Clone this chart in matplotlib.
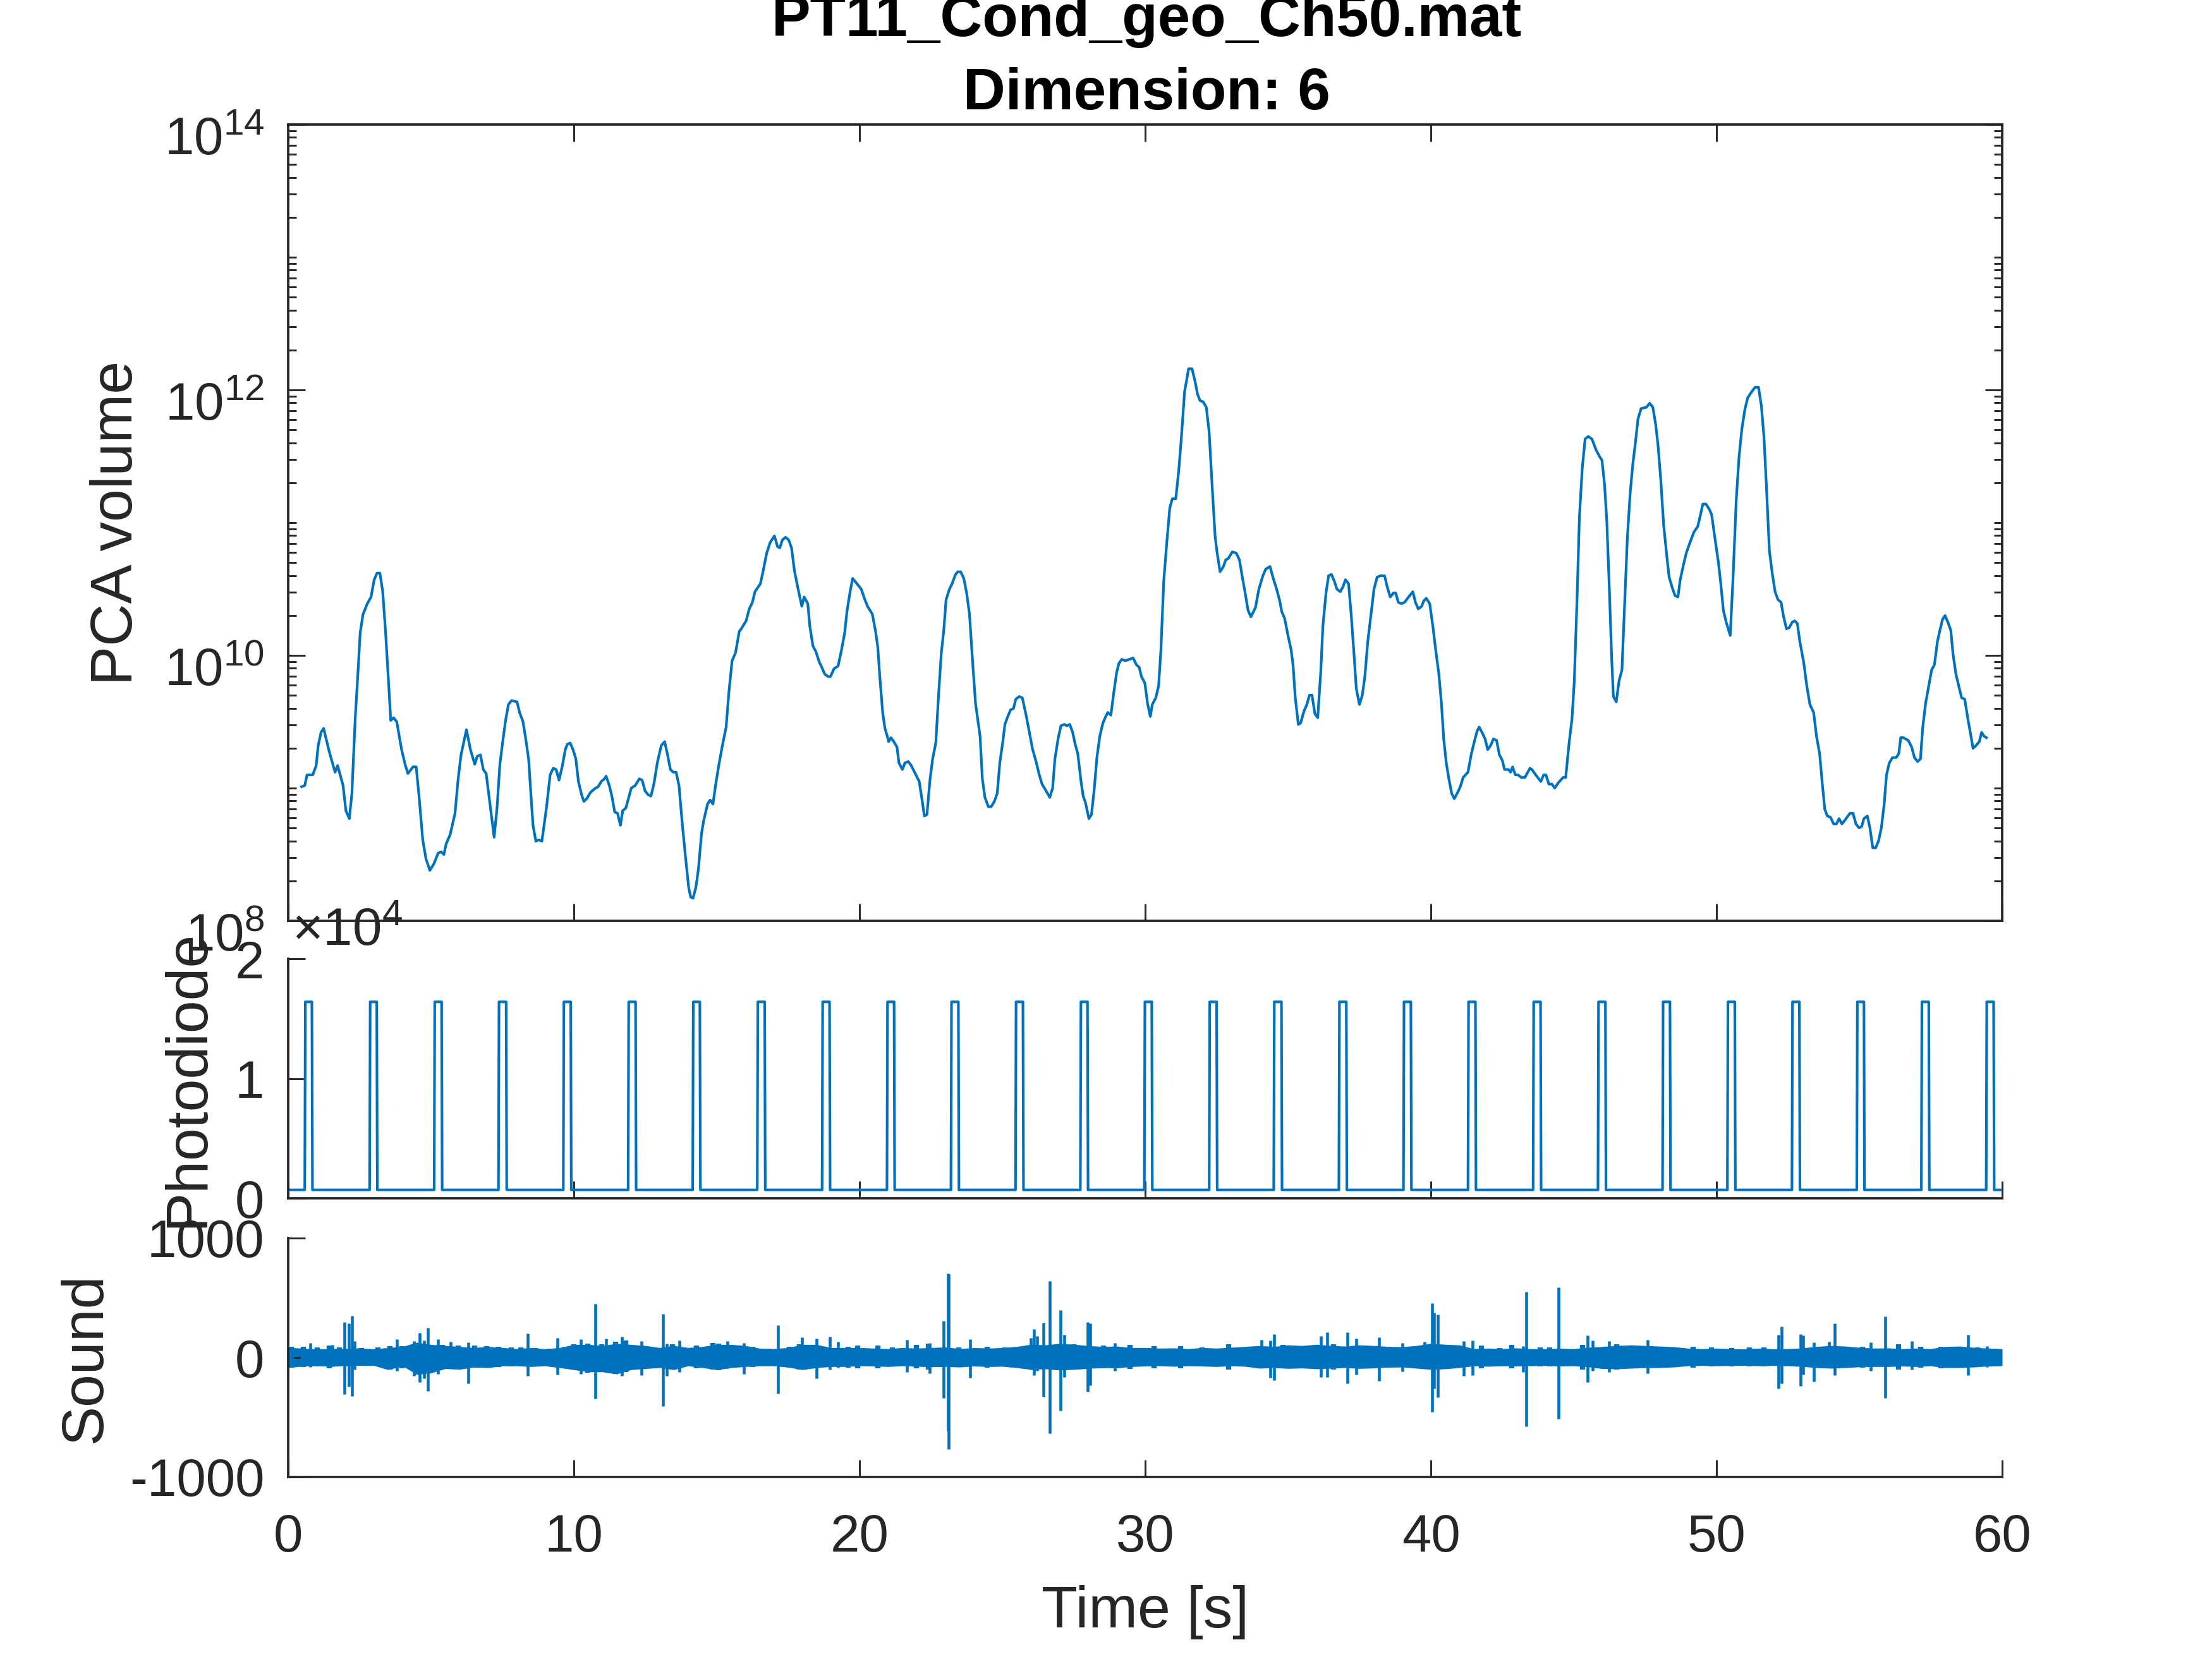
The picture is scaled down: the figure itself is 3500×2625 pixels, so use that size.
import matplotlib
matplotlib.use("Agg")
import matplotlib.pyplot as plt
import numpy as np
from matplotlib.ticker import LogLocator, NullFormatter
from matplotlib.transforms import ScaledTranslation

plt.rcParams["font.family"] = ["Liberation Sans", "DejaVu Sans"]
plt.rcParams["mathtext.fontset"] = "custom"
plt.rcParams["mathtext.rm"] = "Liberation Sans"
plt.rcParams["mathtext.default"] = "rm"

LINE = "#0072BD"
DARK = "#262626"

# PCA volume as (time, log10 value)
vol_t = [0.47, 0.58, 0.66, 0.86, 0.98, 1.05, 1.15, 1.24, 1.43, 1.64, 1.73, 1.92, 2.02, 2.14, 2.23, 2.35, 2.45, 2.52, 2.62, 2.77,
         2.90, 3.01, 3.11, 3.21, 3.31, 3.41, 3.51, 3.59, 3.69, 3.80, 3.97, 4.09, 4.19, 4.37, 4.48, 4.58, 4.71, 4.82, 4.96, 5.10,
         5.25, 5.35, 5.45, 5.53, 5.67, 5.84, 5.95, 6.05, 6.24, 6.38, 6.53, 6.62, 6.73, 6.83, 6.93, 7.03, 7.21, 7.31, 7.41, 7.51,
         7.61, 7.71, 7.82, 8.01, 8.10, 8.22, 8.33, 8.42, 8.50, 8.57, 8.67, 8.78, 8.88, 9.04, 9.17, 9.28, 9.38, 9.48, 9.59, 9.70,
         9.77, 9.87, 9.97, 10.07, 10.16, 10.27, 10.35, 10.45, 10.59, 10.76, 10.85, 10.96, 11.07, 11.13, 11.24, 11.33, 11.43, 11.53, 11.63, 11.71,
         11.82, 12.01, 12.15, 12.29, 12.39, 12.49, 12.60, 12.70, 12.80, 12.93, 13.06, 13.18, 13.28, 13.38, 13.48, 13.58, 13.68, 13.80, 13.90, 14.02,
         14.09, 14.17, 14.27, 14.36, 14.47, 14.55, 14.68, 14.77, 14.87, 14.96, 15.08, 15.19, 15.33, 15.43, 15.54, 15.66, 15.79, 15.86, 16.03, 16.14,
         16.25, 16.34, 16.53, 16.63, 16.75, 16.87, 17.02, 17.13, 17.21, 17.30, 17.41, 17.52, 17.62, 17.72, 17.84, 17.98, 18.06, 18.19, 18.26, 18.37,
         18.47, 18.59, 18.68, 18.78, 18.90, 18.98, 19.11, 19.25, 19.36, 19.48, 19.56, 19.67, 19.76, 19.91, 20.06, 20.17, 20.28, 20.45, 20.57, 20.64,
         20.71, 20.81, 20.89, 20.96, 21.02, 21.10, 21.20, 21.31, 21.38, 21.50, 21.59, 21.71, 21.81, 21.95, 22.09, 22.19, 22.27, 22.36, 22.47, 22.56,
         22.67, 22.75, 22.86, 22.95, 23.03, 23.15, 23.24, 23.36, 23.44, 23.54, 23.65, 23.75, 23.85, 23.95, 24.06, 24.22, 24.30, 24.39, 24.51, 24.61,
         24.72, 24.82, 24.91, 25.01, 25.09, 25.19, 25.29, 25.39, 25.47, 25.59, 25.70, 25.83, 25.92, 26.06, 26.18, 26.28, 26.39, 26.53, 26.66, 26.76,
         26.84, 26.95, 27.05, 27.17, 27.26, 27.36, 27.46, 27.55, 27.64, 27.76, 27.83, 27.91, 28.03, 28.12, 28.22, 28.31, 28.41, 28.52, 28.62, 28.69,
         28.80, 28.90, 29.00, 29.08, 29.18, 29.31, 29.44, 29.58, 29.69, 29.79, 29.87, 29.99, 30.08, 30.18, 30.25, 30.37, 30.47, 30.55, 30.65, 30.76,
         30.86, 30.95, 31.07, 31.17, 31.27, 31.38, 31.44, 31.52, 31.64, 31.75, 31.83, 31.92, 32.03, 32.14, 32.24, 32.34, 32.45, 32.52, 32.62, 32.74,
         32.82, 32.91, 33.05, 33.19, 33.30, 33.40, 33.50, 33.60, 33.70, 33.86, 33.98, 34.12, 34.22, 34.37, 34.47, 34.60, 34.70, 34.78, 34.88, 34.99,
         35.11, 35.18, 35.25, 35.36, 35.44, 35.56, 35.66, 35.75, 35.84, 35.94, 36.04, 36.15, 36.22, 36.33, 36.42, 36.52, 36.62, 36.71, 36.83, 36.93,
         37.01, 37.12, 37.21, 37.31, 37.39, 37.50, 37.60, 37.69, 37.79, 37.90, 38.01, 38.12, 38.24, 38.38, 38.48, 38.58, 38.69, 38.77, 38.86, 38.97,
         39.08, 39.22, 39.37, 39.46, 39.56, 39.68, 39.75, 39.84, 39.96, 40.07, 40.17, 40.28, 40.37, 40.45, 40.54, 40.63, 40.73, 40.82, 40.92, 41.03,
         41.13, 41.30, 41.41, 41.51, 41.62, 41.69, 41.79, 41.90, 41.99, 42.09, 42.19, 42.30, 42.40, 42.50, 42.58, 42.72, 42.79, 42.86, 42.96, 43.05,
         43.17, 43.29, 43.47, 43.54, 43.67, 43.85, 43.95, 44.03, 44.13, 44.24, 44.34, 44.46, 44.63, 44.72, 44.84, 44.94, 45.02, 45.12, 45.20, 45.30,
         45.40, 45.51, 45.64, 45.78, 45.90, 45.99, 46.08, 46.16, 46.25, 46.33, 46.39, 46.49, 46.59, 46.69, 46.78, 46.88, 46.98, 47.07, 47.17, 47.25,
         47.36, 47.55, 47.66, 47.77, 47.87, 47.95, 48.05, 48.15, 48.25, 48.34, 48.45, 48.55, 48.65, 48.73, 48.84, 48.94, 49.07, 49.21, 49.34, 49.44,
         49.52, 49.63, 49.75, 49.83, 49.94, 50.06, 50.14, 50.24, 50.34, 50.48, 50.58, 50.69, 50.79, 50.89, 50.99, 51.09, 51.21, 51.35, 51.47, 51.57,
         51.66, 51.75, 51.85, 51.95, 52.05, 52.15, 52.26, 52.34, 52.45, 52.55, 52.65, 52.74, 52.83, 52.92, 53.05, 53.16, 53.27, 53.40, 53.50, 53.61,
         53.70, 53.79, 53.88, 53.99, 54.10, 54.20, 54.29, 54.39, 54.50, 54.67, 54.78, 54.88, 54.99, 55.08, 55.16, 55.28, 55.37, 55.47, 55.57, 55.67,
         55.77, 55.87, 55.95, 56.05, 56.16, 56.29, 56.38, 56.45, 56.54, 56.71, 56.83, 56.93, 57.04, 57.14, 57.22, 57.32, 57.43, 57.53, 57.63, 57.73,
         57.81, 57.91, 58.00, 58.10, 58.20, 58.28, 58.38, 58.48, 58.58, 58.69, 58.80, 58.90, 58.98, 59.08, 59.20, 59.28, 59.37, 59.45]
vol_log = [9.01, 9.02, 9.10, 9.10, 9.17, 9.32, 9.42, 9.45, 9.28, 9.12, 9.17, 9.02, 8.83, 8.77, 8.96, 9.54, 9.90, 10.17, 10.31, 10.39,
           10.44, 10.57, 10.62, 10.62, 10.48, 10.17, 9.81, 9.51, 9.53, 9.50, 9.29, 9.18, 9.11, 9.16, 9.16, 8.94, 8.61, 8.47, 8.38, 8.43,
           8.51, 8.52, 8.50, 8.58, 8.65, 8.81, 9.07, 9.25, 9.44, 9.29, 9.18, 9.24, 9.25, 9.14, 9.11, 8.94, 8.63, 8.85, 9.18, 9.35,
           9.51, 9.63, 9.66, 9.65, 9.57, 9.50, 9.35, 9.21, 8.94, 8.72, 8.60, 8.61, 8.60, 8.85, 9.10, 9.15, 9.14, 9.06, 9.16, 9.29,
           9.33, 9.34, 9.29, 9.22, 9.05, 8.95, 8.90, 8.92, 8.97, 9.00, 9.01, 9.05, 9.07, 9.09, 9.02, 8.94, 8.82, 8.81, 8.72, 8.83,
           8.85, 9.00, 9.02, 9.07, 9.06, 8.98, 8.95, 8.94, 9.03, 9.20, 9.32, 9.35, 9.25, 9.14, 9.12, 9.12, 9.02, 8.72, 8.50, 8.25,
           8.18, 8.17, 8.25, 8.39, 8.66, 8.76, 8.88, 8.91, 8.88, 9.02, 9.18, 9.31, 9.46, 9.73, 9.96, 10.02, 10.18, 10.20, 10.26, 10.35,
           10.40, 10.48, 10.54, 10.64, 10.77, 10.85, 10.90, 10.82, 10.81, 10.87, 10.89, 10.87, 10.81, 10.64, 10.51, 10.37, 10.44, 10.39, 10.22, 10.07,
           10.03, 9.95, 9.91, 9.86, 9.84, 9.84, 9.90, 9.92, 10.03, 10.17, 10.33, 10.48, 10.58, 10.54, 10.50, 10.43, 10.37, 10.31, 10.17, 10.06,
           9.84, 9.57, 9.45, 9.40, 9.35, 9.38, 9.35, 9.31, 9.19, 9.14, 9.19, 9.20, 9.17, 9.11, 9.05, 8.91, 8.79, 8.80, 9.07, 9.22,
           9.34, 9.64, 10.01, 10.19, 10.42, 10.50, 10.54, 10.61, 10.63, 10.63, 10.58, 10.47, 10.31, 9.98, 9.64, 9.39, 9.07, 8.93, 8.86, 8.86,
           8.90, 8.96, 9.19, 9.34, 9.48, 9.54, 9.59, 9.60, 9.67, 9.69, 9.68, 9.55, 9.45, 9.29, 9.20, 9.11, 9.03, 8.98, 8.93, 9.00,
           9.22, 9.37, 9.47, 9.48, 9.47, 9.48, 9.42, 9.33, 9.26, 9.04, 8.94, 8.89, 8.77, 8.80, 9.00, 9.23, 9.39, 9.49, 9.54, 9.57,
           9.55, 9.72, 9.87, 9.94, 9.97, 9.96, 9.97, 9.98, 9.93, 9.91, 9.84, 9.79, 9.64, 9.54, 9.63, 9.68, 9.77, 10.04, 10.56, 10.86,
           11.11, 11.18, 11.18, 11.38, 11.65, 11.99, 12.06, 12.16, 12.16, 12.06, 11.97, 11.92, 11.91, 11.87, 11.68, 11.29, 10.89, 10.77, 10.63, 10.67,
           10.72, 10.73, 10.78, 10.77, 10.72, 10.59, 10.47, 10.34, 10.29, 10.36, 10.50, 10.60, 10.65, 10.67, 10.59, 10.50, 10.42, 10.33, 10.28, 10.16,
           10.04, 9.92, 9.69, 9.48, 9.49, 9.58, 9.63, 9.70, 9.70, 9.56, 9.53, 9.89, 10.22, 10.47, 10.60, 10.61, 10.56, 10.50, 10.48, 10.52,
           10.57, 10.54, 10.31, 10.01, 9.75, 9.63, 9.70, 9.84, 10.10, 10.30, 10.50, 10.59, 10.60, 10.60, 10.51, 10.44, 10.47, 10.47, 10.40, 10.39,
           10.40, 10.44, 10.48, 10.40, 10.35, 10.37, 10.41, 10.43, 10.39, 10.22, 10.04, 9.86, 9.64, 9.37, 9.19, 9.07, 8.96, 8.92, 8.96, 9.01,
           9.08, 9.12, 9.25, 9.34, 9.43, 9.46, 9.42, 9.37, 9.29, 9.32, 9.37, 9.36, 9.25, 9.21, 9.14, 9.14, 9.12, 9.16, 9.10, 9.10,
           9.08, 9.08, 9.15, 9.14, 9.10, 9.05, 9.10, 9.10, 9.03, 9.03, 9.00, 9.04, 9.08, 9.08, 9.34, 9.52, 9.80, 10.44, 11.04, 11.41,
           11.63, 11.65, 11.63, 11.55, 11.50, 11.47, 11.29, 11.01, 10.49, 9.98, 9.69, 9.65, 9.81, 9.89, 10.37, 10.89, 11.23, 11.44, 11.62, 11.78,
           11.86, 11.87, 11.90, 11.87, 11.74, 11.59, 11.32, 10.98, 10.77, 10.59, 10.51, 10.45, 10.44, 10.57, 10.68, 10.77, 10.85, 10.93, 10.97, 11.06,
           11.14, 11.14, 11.10, 11.06, 10.89, 10.71, 10.56, 10.34, 10.25, 10.15, 10.59, 11.17, 11.50, 11.71, 11.85, 11.94, 11.98, 12.02, 12.02, 11.88,
           11.65, 11.26, 10.79, 10.62, 10.48, 10.42, 10.40, 10.30, 10.20, 10.21, 10.25, 10.26, 10.24, 10.10, 9.95, 9.77, 9.63, 9.57, 9.39, 9.26,
           9.04, 8.84, 8.79, 8.78, 8.73, 8.73, 8.77, 8.73, 8.76, 8.81, 8.81, 8.73, 8.70, 8.71, 8.77, 8.79, 8.70, 8.55, 8.55, 8.60,
           8.70, 8.88, 9.10, 9.19, 9.23, 9.23, 9.26, 9.38, 9.38, 9.36, 9.31, 9.23, 9.20, 9.22, 9.46, 9.64, 9.77, 9.89, 9.93, 10.10,
           10.18, 10.27, 10.30, 10.25, 10.19, 10.01, 9.86, 9.77, 9.68, 9.67, 9.52, 9.40, 9.30, 9.32, 9.35, 9.42, 9.39, 9.38]

# photodiode pulses
pulse_on = [0.58, 2.85, 5.11, 7.36, 9.63, 11.90, 14.16, 16.42, 18.69, 20.96, 23.20, 25.46, 27.73, 29.97,
            32.24, 34.50, 36.78, 39.04, 41.30, 43.58, 45.85, 48.11, 50.38, 52.64, 54.91, 57.17, 59.44]
pulse_off = [0.85, 3.12, 5.39, 7.65, 9.91, 12.18, 14.43, 16.70, 18.97, 21.23, 23.48, 25.74, 28.00, 30.25,
             32.52, 34.79, 37.06, 39.32, 41.58, 43.86, 46.13, 48.39, 50.66, 52.92, 55.18, 57.45, 59.72]
pulse_low = 700
pulse_high = 16400

# sound: outline of the dense band every half second, then what sticks out of it
band_t = np.arange(0, 60.5, 0.5)
band_up = [83, 78, 72, 74, 74, 80, 72, 83, 92, 127, 109, 100, 92, 83, 92, 83, 74, 83, 72, 83,
           109, 109, 100, 118, 109, 100, 83, 100, 83, 92, 109, 109, 100, 78, 74, 83, 109, 109, 83, 83,
           83, 78, 74, 83, 78, 83, 88, 74, 83, 78, 83, 92, 110, 105, 118, 110, 100, 92, 95, 83,
           83, 78, 80, 74, 83, 78, 85, 92, 100, 92, 105, 100, 110, 100, 95, 105, 100, 92, 90, 100,
           118, 110, 105, 74, 78, 74, 80, 74, 72, 78, 74, 85, 92, 100, 105, 100, 95, 90, 78, 74,
           78, 74, 72, 78, 72, 74, 80, 92, 100, 95, 85, 78, 80, 74, 78, 74, 92, 95, 85, 78, 74]
band_low = [85, 72, 70, 74, 70, 66, 67, 102, 70, 141, 129, 93, 99, 81, 85, 70, 70, 76, 70, 85,
            102, 120, 120, 138, 102, 93, 85, 102, 70, 85, 102, 85, 76, 70, 70, 81, 102, 85, 76, 76,
            70, 72, 76, 70, 74, 78, 76, 80, 72, 76, 74, 85, 100, 95, 105, 100, 92, 85, 88, 76,
            72, 70, 74, 70, 72, 76, 70, 74, 90, 85, 92, 88, 95, 90, 85, 92, 88, 82, 80, 90,
            100, 95, 85, 70, 74, 70, 72, 70, 67, 72, 70, 78, 93, 95, 90, 85, 85, 80, 70, 67,
            70, 67, 66, 70, 67, 70, 75, 85, 90, 85, 78, 76, 76, 72, 76, 70, 85, 85, 80, 72, 70]
spike_t = [0.78, 1.54, 1.96, 2.12, 2.23, 2.32, 3.81, 4.41, 4.60, 4.76, 4.90, 5.24, 5.69, 6.31, 8.38, 9.42, 10.24, 10.75, 11.13, 11.68,
           12.37, 13.11, 13.26, 13.69, 15.37, 15.95, 17.15, 17.98, 18.49, 18.97, 19.24, 21.66, 22.45, 22.95, 23.09, 23.13, 23.88, 26.00, 26.10, 26.22,
           26.43, 26.67, 27.04, 27.17, 27.98, 28.08, 28.94, 34.06, 34.37, 34.51, 36.16, 36.37, 37.07, 37.39, 38.18, 39.00, 39.77, 40.04, 40.11, 40.25,
           41.14, 41.45, 43.22, 43.34, 44.47, 45.49, 45.66, 46.23, 47.59, 52.17, 52.27, 52.95, 53.02, 53.41, 53.94, 54.13, 55.39, 55.91, 56.36, 56.84,
           58.80, 59.48]
spike_top = [123, 105, 296, 286, 349, 136, 153, 136, 206, 145, 250, 153, 130, 127, 201, 162, 153, 450, 157, 176,
             139, 363, 118, 145, 139, 123, 268, 168, 157, 176, 132, 150, 123, 307, 705, 697, 153, 162, 238, 180,
             289, 642, 395, 190, 296, 286, 122, 150, 141, 194, 180, 212, 210, 157, 168, 123, 132, 453, 374, 362,
             138, 143, 97, 552, 586, 185, 141, 138, 148, 190, 257, 198, 183, 127, 130, 286, 127, 342, 109, 136,
             189, 95]
spike_bot = [80, 75, 305, 243, 323, 100, 111, 155, 208, 173, 279, 138, 90, 219, 152, 145, 138, 344, 110, 155,
             146, 409, 152, 120, 90, 138, 300, 95, 173, 102, 85, 123, 132, 340, 614, 769, 169, 102, 150, 110,
             328, 637, 446, 166, 287, 235, 111, 85, 169, 190, 164, 164, 219, 143, 196, 116, 85, 455, 261, 335,
             155, 146, 120, 578, 513, 205, 111, 120, 134, 257, 217, 240, 141, 201, 85, 146, 111, 340, 85, 102,
             150, 80]
tooth_t = [0.10, 0.52, 1.02, 1.44, 1.79, 2.57, 3.14, 3.56, 3.98, 4.29, 5.40, 5.96, 6.53, 6.95, 7.37, 7.80, 8.15, 8.64, 9.14, 9.70,
           9.99, 10.48, 10.97, 11.47, 11.82, 12.67, 13.45, 14.29, 14.86, 15.07, 16.27, 16.84, 17.54, 17.90, 18.18, 19.60, 19.94, 20.65, 21.14, 21.99,
           22.41, 23.47, 24.46, 25.09, 25.73, 27.49, 28.55, 29.46, 30.31, 31.23, 32.00, 32.92, 33.48, 34.82, 35.74, 36.59, 37.72, 38.56, 41.78, 42.41,
           42.83, 43.82, 44.17, 45.30, 46.50, 47.14, 48.27, 49.18, 49.82, 50.52, 51.16, 51.65, 53.55, 54.61, 55.11, 56.38, 57.15, 57.86, 58.21, 59.13, 59.76]
tooth_top = [92, 90, 83, 100, 83, 78, 83, 97, 97, 92, 104, 100, 100, 95, 92, 83, 83, 78, 74, 92,
             113, 118, 109, 130, 141, 92, 113, 100, 122, 118, 92, 74, 92, 109, 100, 92, 100, 100, 83, 104,
             118, 86, 92, 83, 83, 109, 100, 106, 97, 97, 83, 109, 78, 104, 100, 109, 92, 92, 102, 78,
             104, 83, 83, 104, 109, 92, 78, 92, 83, 78, 83, 83, 92, 83, 92, 109, 92, 92, 92, 83, 74]
tooth_bot = [85, 78, 76, 88, 72, 70, 74, 102, 88, 100, 95, 92, 85, 85, 78, 76, 72, 70, 67, 85,
             100, 125, 115, 140, 120, 85, 100, 88, 100, 104, 78, 70, 85, 100, 92, 85, 88, 90, 76, 92,
             100, 78, 85, 76, 78, 100, 92, 95, 88, 90, 76, 100, 72, 92, 88, 100, 85, 85, 92, 72,
             92, 76, 76, 100, 100, 85, 70, 85, 76, 72, 76, 76, 85, 76, 85, 100, 85, 88, 85, 76, 70]

x_ticks = [0, 10, 20, 30, 40, 50, 60]
W, H = 3500, 2625
fig = plt.figure(figsize=(W / 300, H / 300), dpi=300, facecolor="white")


def px_axes(left, right, top, bottom):
    return fig.add_axes((left / W, 1 - bottom / H, (right - left) / W, (bottom - top) / H))


def style(ax, box):
    for s in ax.spines.values():
        s.set_linewidth(0.9)
        s.set_color(DARK)
    if not box:
        ax.spines["top"].set_visible(False)
        ax.spines["right"].set_visible(False)
    ax.set_xlim(0, 60)
    ax.set_xticks(x_ticks)
    ax.tick_params(axis="both", which="major", direction="in", length=6.4, width=0.7, colors=DARK,
                   labelsize=20, pad=9, top=box, right=box)
    ax.tick_params(axis="x", pad=13.7)


ax1 = px_axes(456, 3168, 197, 1457)
ax2 = px_axes(456, 3168, 1517, 1896)
ax3 = px_axes(456, 3168, 1959, 2337)

# top panel
style(ax1, True)
ax1.plot(vol_t, 10 ** np.array(vol_log), color=LINE, lw=1.0)
ax1.set_yscale("log")
ax1.set_ylim(1e8, 1e14)
ax1.set_yticks([1e8, 1e10, 1e12, 1e14])
ax1.set_yticklabels([r"$10^{8}$", r"$10^{10}$", r"$10^{12}$", r"$10^{14}$"])
for lab in ax1.get_yticklabels():
    lab.set_transform(lab.get_transform() + ScaledTranslation(0, -4.3 / 72, fig.dpi_scale_trans))
ax1.yaxis.set_minor_locator(LogLocator(base=10, subs=np.arange(1, 10), numticks=20))
ax1.yaxis.set_minor_formatter(NullFormatter())
ax1.tick_params(axis="y", which="minor", direction="in", length=3.2, width=0.7, color=DARK, left=True, right=True)
ax1.set_xticklabels([])
ax1.set_ylabel("PCA volume", fontsize=22.4, color=DARK)
ax1.yaxis.set_label_coords((228 - 456) / 2712, 0.5)
fig.text(0.5184, 1 - 57 / H, "PT11_Cond_geo_Ch50.mat", fontsize=22.2, fontweight="bold", ha="center", va="baseline", color="black")
fig.text(0.5184, 1 - 173 / H, "Dimension: 6", fontsize=22.2, fontweight="bold", ha="center", va="baseline", color="black")

# photodiode
pd_t = [0.0]
pd_y = [pulse_low]
for on, off in zip(pulse_on, pulse_off):
    pd_t += [on, on + 0.02, off - 0.02, off]
    pd_y += [pulse_low, pulse_high, pulse_high, pulse_low]
pd_t.append(60.0)
pd_y.append(pulse_low)
style(ax2, False)
ax2.plot(pd_t, pd_y, color=LINE, lw=1.0)
ax2.set_ylim(0, 20000)
ax2.set_yticks([0, 10000, 20000])
ax2.set_yticklabels(["0", "1", "2"])
ax2.set_xticklabels([])
ax2.set_ylabel("Photodiode", fontsize=22.4, color=DARK)
ax2.yaxis.set_label_coords((340 - 456) / 2712, 0.5)
fig.text(462 / W, 1 - 1496 / H, r"$\times 10^{4}$", fontsize=20, ha="left", va="baseline", color=DARK)

# sound
style(ax3, False)
ax3.fill_between(band_t, -np.array(band_low), band_up, color=LINE, lw=0)
ax3.vlines(tooth_t, -np.array(tooth_bot), tooth_top, color=LINE, lw=2.0)
ax3.vlines(spike_t, -np.array(spike_bot), spike_top, color=LINE, lw=1.1)
ax3.set_ylim(-1000, 1000)
ax3.set_yticks([-1000, 0, 1000])
ax3.set_yticklabels(["-1000", "0", "1000"])
ax3.set_xlabel("Time [s]", fontsize=22.4, color=DARK)
ax3.xaxis.set_label_coords(0.5, (2337 - 2508) / 378)
ax3.set_ylabel("Sound", fontsize=22.4, color=DARK)
ax3.yaxis.set_label_coords((179 - 456) / 2712, 0.5)

fig.savefig("out.png", dpi=300, facecolor="white")
plt.close(fig)
